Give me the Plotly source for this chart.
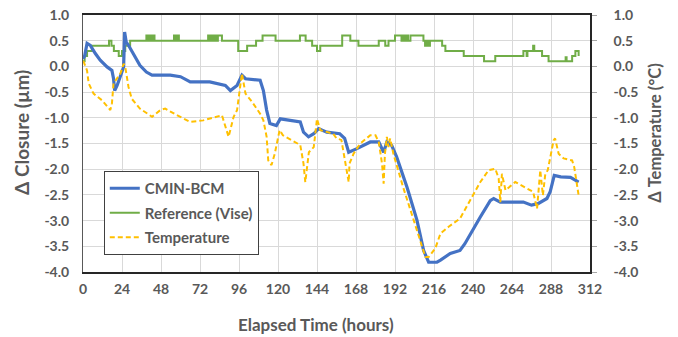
import plotly.graph_objects as go

# ---- data ----
bcm_hours = [0, 1, 2.5, 4.5, 7.6, 10.6, 14.8, 17.8, 18.8, 19.5, 21, 23, 25, 25.6, 26.6, 28, 31, 35, 39, 42.5,
             53.7, 60, 66, 78, 87.6, 90.7, 94.8, 97.8, 100, 109, 111, 113, 115, 119, 121.4, 133.7, 135.7, 138.8, 142, 145,
             150, 158, 161, 163.5, 168.6, 176.8, 182, 185, 187, 190, 193, 199.4, 205.5, 209.6, 212.7, 217.8, 220, 226, 232, 235,
             244.5, 250.6, 252.7, 256.8, 271, 276, 280, 285.5, 287.5, 290, 294, 300, 305]
bcm_values = [0.15, 0.2, 0.45, 0.41, 0.25, 0.12, -0.01, -0.08, -0.24, -0.47, -0.37, -0.2, -0.01, 0.67, 0.47, 0.41, 0.25, 0.02, -0.11, -0.17,
              -0.17, -0.2, -0.30, -0.30, -0.37, -0.47, -0.37, -0.17, -0.24, -0.27, -0.47, -0.85, -1.11, -1.15, -1.02, -1.08, -1.28, -1.37, -1.31, -1.21,
              -1.28, -1.31, -1.40, -1.67, -1.60, -1.47, -1.47, -1.67, -1.47, -1.54, -1.76, -2.35, -2.99, -3.58, -3.81, -3.81, -3.77, -3.64, -3.58, -3.45,
              -2.93, -2.61, -2.57, -2.64, -2.64, -2.70, -2.67, -2.57, -2.44, -2.12, -2.15, -2.16, -2.25]

ref_hours = [0, 1, 2.5, 5.5, 16, 17.5, 19, 22, 24, 26, 29, 39, 40, 41, 42, 43, 44, 56, 57, 58, 59, 77, 78, 79, 80, 81, 82, 83, 85.5,
             95.5, 101, 106.5, 110.5, 118.5, 133.5, 137, 141, 144, 146, 159.5, 164.5, 169.5, 182, 186, 188, 192, 196, 197, 198, 199,
             200, 201.5, 209.5, 210.5, 211.5, 212.5, 213.5, 215, 221, 223, 234.3, 246.8, 253.7, 271, 273, 273.5, 277, 277.7, 282.5,
             286.5, 297, 297.6, 301, 303, 305]
ref_values = [0.1, 0.2, 0.3, 0.4, 0.5, 0.4, 0.3, 0.2, 0.3, 0.4, 0.5, 0.6, 0.5, 0.6, 0.5, 0.6, 0.5, 0.6, 0.5, 0.6, 0.5, 0.6, 0.5, 0.6, 0.5, 0.6, 0.5, 0.6, 0.5,
              0.3, 0.4, 0.5, 0.6, 0.5, 0.6, 0.5, 0.4, 0.3, 0.4, 0.6, 0.5, 0.4, 0.5, 0.4, 0.5, 0.6, 0.5, 0.6, 0.5, 0.6,
              0.5, 0.6, 0.5, 0.4, 0.5, 0.4, 0.5, 0.5, 0.4, 0.3, 0.2, 0.1, 0.2, 0.3, 0.2, 0.3, 0.4, 0.3, 0.2,
              0.1, 0.18, 0.1, 0.2, 0.3, 0.2]

temp_hours = [0, 0.4, 1.5, 2.5, 3.5, 6.5, 11.7, 16.8, 17.8, 18.8, 23, 25, 26, 28, 30, 35, 42.5, 47.6, 50.6, 57.8,
              66, 74, 85.5, 87.6, 89.6, 92.7, 94.8, 97.8, 100, 104, 109, 111, 113, 114, 116, 118, 120, 121, 123, 133.7,
              135.7, 136.8, 139, 142, 144, 146, 154, 156, 159, 161.4, 163.5, 164, 166.5, 170.6, 176.8, 180, 182, 184, 185, 185.8,
              187, 188, 189, 191, 197, 203.5, 208.6, 210.7, 212.7, 216.8, 220, 225, 232, 238, 244.5, 249.6, 253.7, 255.8, 256.8, 257.8,
              260, 266, 273, 277, 279.4, 281.4, 283, 284.5, 286, 289.6, 290.5, 292.7, 295.8, 301, 302.3, 305]
temp_values = [0.1, 0.09, 0.0, -0.08, -0.33, -0.53, -0.66, -0.85, -0.72, -0.33, -0.14, 0.05, -0.01, -0.40, -0.63, -0.82, -0.98, -0.85, -0.82, -0.95,
               -1.08, -1.05, -0.95, -1.15, -1.37, -0.98, -0.85, -0.14, -0.53, -0.69, -0.92, -1.05, -1.37, -1.83, -1.92, -1.70, -1.34, -1.24, -1.34, -1.53,
               -1.89, -2.25, -1.67, -1.57, -1.02, -1.24, -1.31, -1.40, -1.43, -1.89, -2.25, -1.89, -1.70, -1.50, -1.34, -1.34, -1.47, -1.89, -2.28, -1.70,
               -1.37, -1.57, -1.40, -1.70, -2.35, -2.99, -3.51, -3.71, -3.71, -3.54, -3.25, -3.12, -2.96, -2.61, -2.25, -2.02, -1.99, -2.18, -2.64, -2.09,
               -2.41, -2.25, -2.38, -2.44, -2.77, -2.02, -2.51, -2.09, -2.02, -1.44, -1.40, -1.70, -1.79, -1.83, -1.96, -2.51]

x_ticks = [0, 24, 48, 72, 96, 120, 144, 168, 192, 216, 240, 264, 288, 312]
y_ticks = [1.0, 0.5, 0.0, -0.5, -1.0, -1.5, -2.0, -2.5, -3.0, -3.5, -4.0]

FONT = "Lato"
GRAY = "#595959"

fig = go.Figure()
fig.add_trace(go.Scatter(x=ref_hours, y=ref_values, name="Reference (Vise)", mode="lines",
                         line=dict(color="#70AD47", width=2, shape="hv"), legendrank=2, legendgroup="b"))
fig.add_trace(go.Scatter(x=bcm_hours, y=bcm_values, name="CMIN-BCM", mode="lines",
                         line=dict(color="#4472C4", width=3.2), legendrank=1, legendgroup="a"))
fig.add_trace(go.Scatter(x=temp_hours, y=temp_values, name="Temperature", mode="lines", yaxis="y2",
                         line=dict(color="#FFC000", width=2, dash="5px,3px"), legendrank=3, legendgroup="c"))

tick_font = dict(family=FONT, size=14, color=GRAY, weight="bold")
fig.update_layout(
    width=678, height=337,
    margin=dict(l=83, r=88, t=15, b=65, autoexpand=False),
    paper_bgcolor="white", plot_bgcolor="white",
    font=dict(family=FONT, color=GRAY),
    xaxis=dict(range=[0, 312], tickvals=x_ticks, ticktext=[str(v) for v in x_ticks],
               showgrid=True, gridcolor="#d9d9d9", gridwidth=1, zeroline=False, automargin=False,
               showline=True, linecolor="#262626", linewidth=2, mirror=True,
               tickfont=tick_font, ticklabelstandoff=3),
    yaxis=dict(range=[-4, 1], tickvals=y_ticks, ticktext=[f"{v:.1f}" for v in y_ticks],
               showgrid=True, gridcolor="#d9d9d9", gridwidth=1, zeroline=False, automargin=False,
               showline=True, linecolor="#595959", linewidth=1,
               tickfont=tick_font, ticklabelstandoff=10),
    yaxis2=dict(range=[-4, 1], tickvals=y_ticks, ticktext=[f"{v:.1f}" for v in y_ticks],
                overlaying="y", side="right", showgrid=False, zeroline=False, automargin=False,
                showline=True, linecolor="#262626", linewidth=1.5,
                ticks="outside", ticklen=5, tickcolor="#a6a6a6",
                tickfont=tick_font, ticklabelstandoff=14),
    legend=dict(x=0.041, y=0.393, xanchor="left", yanchor="top",
                bgcolor="white", bordercolor="#404040", borderwidth=1,
                font=dict(family=FONT, size=15, color=GRAY, weight="bold"),
                itemwidth=30, traceorder="grouped", tracegroupgap=2),
    showlegend=True,
    annotations=[
        dict(text="Elapsed Time (hours)", xref="paper", yref="paper", x=0.4596, y=-0.206,
             xanchor="center", yanchor="middle", showarrow=False,
             font=dict(family=FONT, size=17, color=GRAY, weight="bold")),
        dict(text="Δ Closure (µm)", xref="paper", yref="paper", x=-0.1203, y=0.541,
             xanchor="center", yanchor="middle", showarrow=False, textangle=-90,
             font=dict(family=FONT, size=19, color=GRAY, weight="bold")),
        dict(text="Δ Temperature (°C)", xref="paper", yref="paper", x=1.128, y=0.541,
             xanchor="center", yanchor="middle", showarrow=False, textangle=-90,
             font=dict(family=FONT, size=16.5, color=GRAY, weight="bold")),
    ],
)

fig.write_html("out.html", config={"displayModeBar": False},
               post_script="document.body.style.margin='0';")
